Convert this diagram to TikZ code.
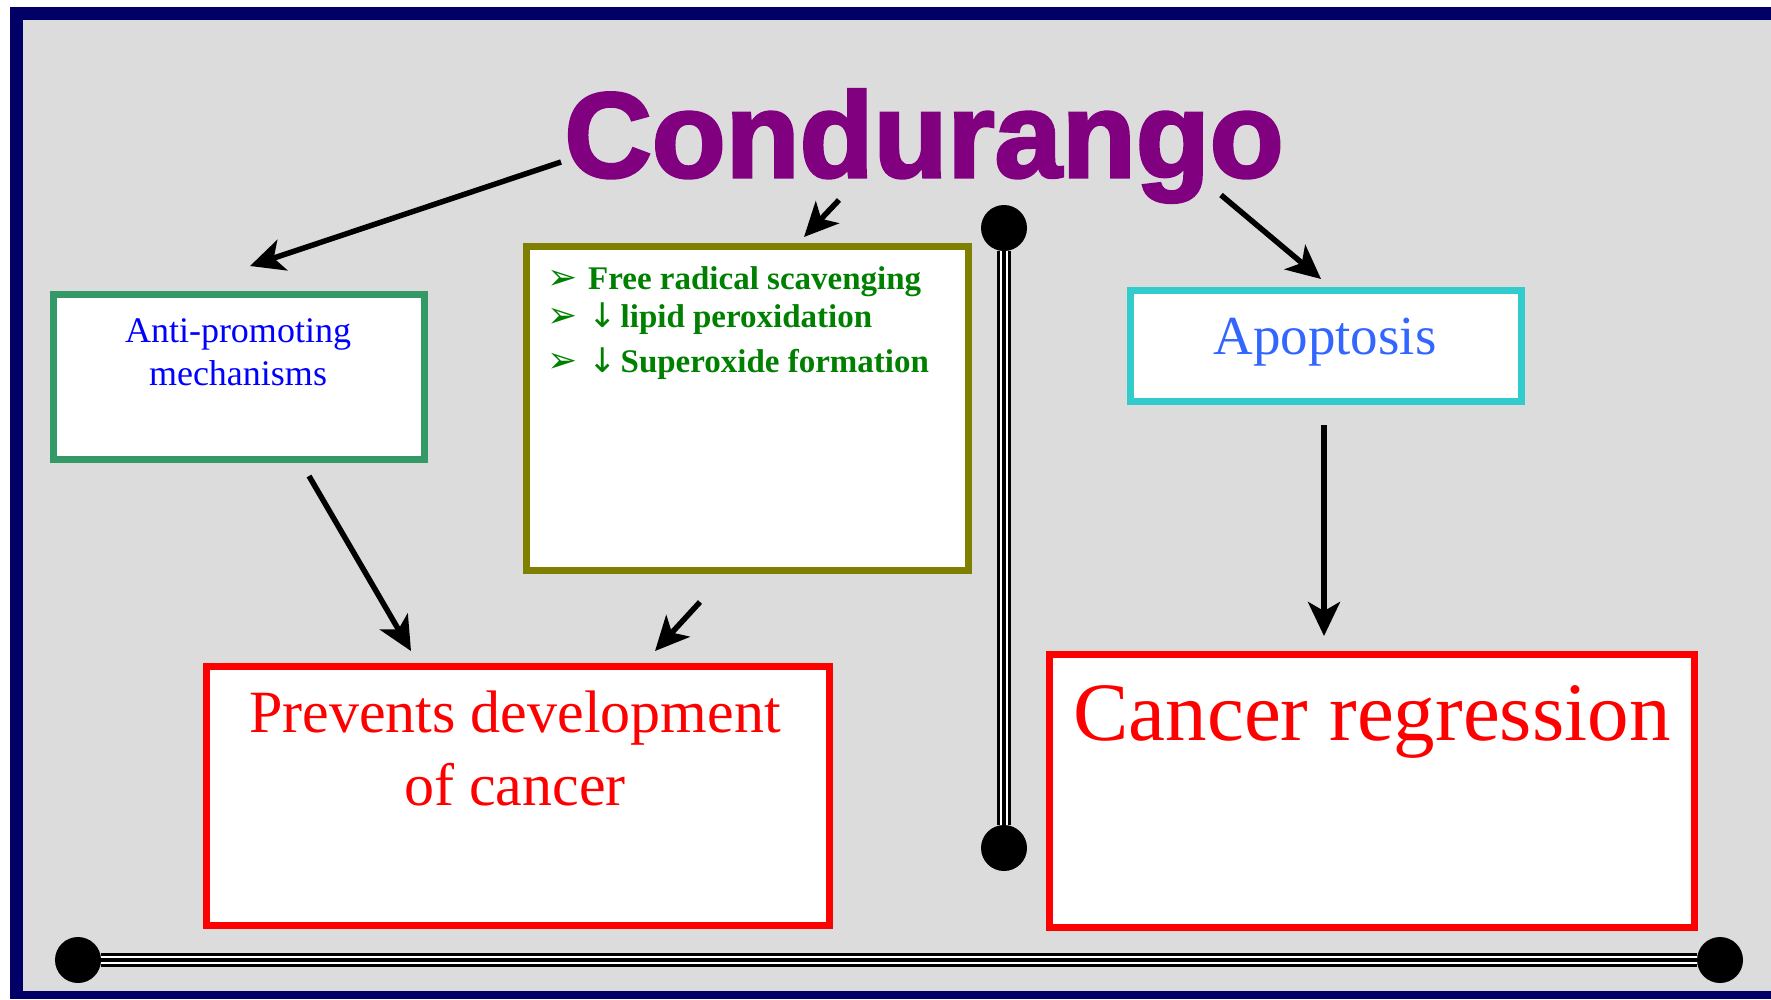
\documentclass[tikz,border=0pt]{standalone}
\usepackage{fontspec}
\setmainfont{Liberation Serif}
\newfontfamily\titlefont[BoldFeatures={FakeBold=2.5}]{Liberation Sans}
\newfontfamily\symfont{DejaVu Sans}
\usetikzlibrary{arrows.meta}
\definecolor{navy}{HTML}{000066}
\definecolor{bggrey}{HTML}{DCDCDC}
\definecolor{purp}{HTML}{800080}
\definecolor{antigreen}{HTML}{339966}
\definecolor{olive}{HTML}{808000}
\definecolor{apopcyan}{HTML}{33CCCC}
\definecolor{apopblue}{HTML}{3366FF}
\definecolor{listgreen}{HTML}{008000}
\newcommand{\dnarrow}{{\symfont\mdseries\fontsize{34}{34}\selectfont ↓}\hspace{4pt}}
\begin{document}
\begin{tikzpicture}[x=1pt,y=-1pt,
  box/.style={draw, line width=7pt, fill=white, inner sep=0pt},
  arr/.style={line width=5.5pt, -{Stealth[length=34pt,width=32pt,inset=9pt]}},
  dot/.style={circle, fill=black, inner sep=0pt, minimum size=46pt},
  rail/.style={line width=14pt},
  railgap/.style={draw=white, double=black, double distance=3.6pt, line width=1.8pt},
  lbl/.style={anchor=base, inner sep=0pt}]
\fill[white] (0,0) rectangle (1771,999);
\useasboundingbox (0,0) rectangle (1771,999);
\fill[navy] (10,7) rectangle (1771,999);
\fill[bggrey] (23,20) rectangle (1771,991);

% boxes
\node[box, draw=antigreen, minimum width=371pt, minimum height=165pt] (anti) at (239,377) {};
\node[box, draw=olive, minimum width=442pt, minimum height=324pt] (olivebox) at (747.5,408.5) {};
\node[box, draw=apopcyan, minimum width=391pt, minimum height=111pt] (apop) at (1326,346) {};
\node[box, draw=red, minimum width=623pt, minimum height=259pt] (prev) at (518,796) {};
\node[box, draw=red, minimum width=645pt, minimum height=273pt] (canc) at (1372,791) {};

% texts
\node[lbl, text=purp, font=\titlefont\bfseries\fontsize{121}{121}\selectfont] (title) at (924,177) {Condurango};
\node[lbl, text=blue, font=\fontsize{36}{36}\selectfont] (anti1) at (238,342) {Anti-promoting};
\node[lbl, text=blue, font=\fontsize{36}{36}\selectfont] (anti2) at (238,385) {mechanisms};
\node[lbl, text=apopblue, font=\fontsize{55}{55}\selectfont] (apoptxt) at (1325,354) {Apoptosis};
\node[lbl, text=red, font=\fontsize{60}{60}\selectfont] (prev1) at (515,732) {Prevents development};
\node[lbl, text=red, font=\fontsize{60}{60}\selectfont] (prev2) at (515,805) {of cancer};
\node[lbl, text=red, font=\fontsize{83}{83}\selectfont] (canctxt) at (1372,740) {Cancer regression};

\tikzset{bul/.style={anchor=base west, inner sep=0pt, text=listgreen, font=\symfont\fontsize{36}{36}\selectfont},
  item/.style={anchor=base west, inner sep=0pt, text=listgreen, font=\bfseries\fontsize{33}{33}\selectfont}}
\node[bul] (b1) at (547,289) {➢};
\node[bul] (b2) at (547,327) {➢};
\node[bul] (b3) at (547,372) {➢};
\node[item] (i1) at (588,289) {Free radical scavenging};
\node[item] (i2) at (588,327) {\dnarrow lipid peroxidation};
\node[item] (i3) at (588,372) {\dnarrow Superoxide formation};

% connectors
\coordinate (aS) at (561,162); \coordinate (aE) at (250,266);
\coordinate (bS) at (839,200); \coordinate (bE) at (804,237);
\coordinate (cS) at (1221,195); \coordinate (cE) at (1321,279);
\coordinate (dS) at (309,476); \coordinate (dE) at (411,651);
\coordinate (eS) at (700,602); \coordinate (eE) at (655,651);
\coordinate (fS) at (1324,425); \coordinate (fE) at (1324,636);
\draw[arr] (aS) -- (aE);
\draw[arr] (bS) -- (bE);
\draw[arr] (cS) -- (cE);
\draw[arr] (dS) -- (dE);
\draw[arr] (eS) -- (eE);
\draw[arr] (fS) -- (fE);

% rails
\node[dot] (v1) at (1004,228) {};
\node[dot] (v2) at (1004,848) {};
\node[dot] (h1) at (78,960) {};
\node[dot] (h2) at (1720,960) {};
\draw[rail] (v1) -- (v2);
\draw[railgap] (v1) -- (v2);
\draw[rail] (h1) -- (h2);
\draw[railgap] (h1) -- (h2);
\end{tikzpicture}
\end{document}
